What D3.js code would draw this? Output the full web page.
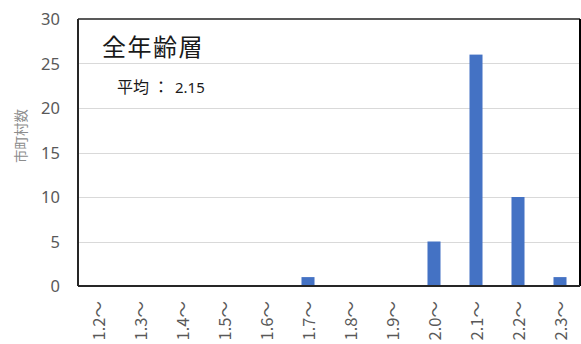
<!DOCTYPE html>
<html>
<head>
<meta charset="utf-8">
<script src="https://cdn.jsdelivr.net/npm/d3@7"></script>
<style>
  html, body { margin: 0; padding: 0; background: #fff; }
  svg { display: block; }
</style>
</head>
<body>
<svg id="chart" width="581" height="344"></svg>
<script>
// Distribution of municipalities by value class (all age groups)
const categories = ["1.2～", "1.3～", "1.4～", "1.5～", "1.6～", "1.7～", "1.8～", "1.9～", "2.0～", "2.1～", "2.2～", "2.3～"];
const counts = [0, 0, 0, 0, 0, 1, 0, 0, 5, 26, 10, 1];
const yTicks = [0, 5, 10, 15, 20, 25, 30];
const titleText = "全年齢層";
const meanLabel = "平均";
const meanValue = 2.15;
const yAxisTitle = "市町村数";

const svg = d3.select("#chart");
const plot = { left: 78, right: 580, top: 19, bottom: 286 };

const x = d3.scaleBand()
  .domain(categories)
  .range([plot.left - 1, plot.right + 1])
  .paddingInner(0.69)
  .paddingOuter(0.345);

const y = d3.scaleLinear()
  .domain([0, 30])
  .range([plot.bottom, plot.top]);

const latin = "'Noto Sans', 'Open Sans', sans-serif";
const cjk = "'Noto Sans CJK JP', 'Noto Sans', sans-serif";

// Horizontal gridlines
svg.append("g")
  .selectAll("line")
  .data(yTicks.filter(d => d > 0 && d < 30))
  .join("line")
  .attr("x1", plot.left)
  .attr("x2", plot.right)
  .attr("y1", d => Math.round(y(d)) + 0.5)
  .attr("y2", d => Math.round(y(d)) + 0.5)
  .attr("stroke", "#d9d9d9")
  .attr("stroke-width", 1.2);

// Bars
svg.append("g")
  .selectAll("rect")
  .data(categories.map((c, i) => ({ c, v: counts[i] })))
  .join("rect")
  .attr("x", d => x(d.c))
  .attr("width", x.bandwidth())
  .attr("y", d => y(d.v))
  .attr("height", d => y(0) - y(d.v))
  .attr("fill", "#4472c4");

// Plot frame
svg.append("line")
  .attr("x1", plot.left).attr("x2", plot.right)
  .attr("y1", plot.top).attr("y2", plot.top)
  .attr("stroke", "#595959").attr("stroke-width", 2);
svg.append("line")
  .attr("x1", plot.left).attr("x2", plot.left)
  .attr("y1", plot.top).attr("y2", plot.bottom)
  .attr("stroke", "#262626").attr("stroke-width", 2);
svg.append("line")
  .attr("x1", plot.right).attr("x2", plot.right)
  .attr("y1", plot.top).attr("y2", plot.bottom)
  .attr("stroke", "#000").attr("stroke-width", 2);
svg.append("line")
  .attr("x1", plot.left).attr("x2", plot.right)
  .attr("y1", plot.bottom).attr("y2", plot.bottom)
  .attr("stroke", "#262626").attr("stroke-width", 2);

// Y axis labels
const yAxis = d3.axisLeft(y).tickValues(yTicks).tickSize(0).tickPadding(0);
const gy = svg.append("g")
  .attr("transform", `translate(60,0)`)
  .call(yAxis);
gy.select(".domain").remove();
gy.selectAll("text")
  .attr("font-family", latin)
  .attr("font-size", 16.5)
  .attr("fill", "#595959")
  .attr("dy", "0.35em");

// X axis labels (rotated)
const xAxis = d3.axisBottom(x).tickSize(0).tickPadding(0);
const gx = svg.append("g")
  .attr("transform", `translate(0,${plot.bottom})`)
  .call(xAxis);
gx.select(".domain").remove();
gx.selectAll("text")
  .attr("font-family", cjk)
  .attr("font-size", 16.5)
  .attr("fill", "#595959")
  .attr("text-anchor", "end")
  .attr("transform", "translate(1,15) rotate(-90)")
  .attr("x", 0)
  .attr("y", 0)
  .attr("dy", "0.35em");

// Y axis title
svg.append("text")
  .attr("transform", "translate(20,136) rotate(-90)")
  .attr("text-anchor", "middle")
  .attr("dominant-baseline", "central")
  .attr("font-family", cjk)
  .attr("font-size", 13.5)
  .attr("fill", "#8c8c8c")
  .text(yAxisTitle);

// Chart title
svg.append("text")
  .attr("x", 102)
  .attr("y", 56)
  .attr("font-family", cjk)
  .attr("font-size", 24)
  .attr("letter-spacing", 1.5)
  .attr("fill", "#1a1a1a")
  .text(titleText);

// Mean annotation
const mean = svg.append("text")
  .attr("x", 117)
  .attr("y", 93)
  .attr("font-family", cjk)
  .attr("font-size", 16)
  .attr("fill", "#1a1a1a");
mean.append("tspan").text(meanLabel);
mean.append("tspan").attr("dx", 4).text("：");
mean.append("tspan")
  .attr("x", 175)
  .attr("font-family", latin)
  .attr("font-size", 15)
  .text(d3.format(".2f")(meanValue));
</script>
</body>
</html>
